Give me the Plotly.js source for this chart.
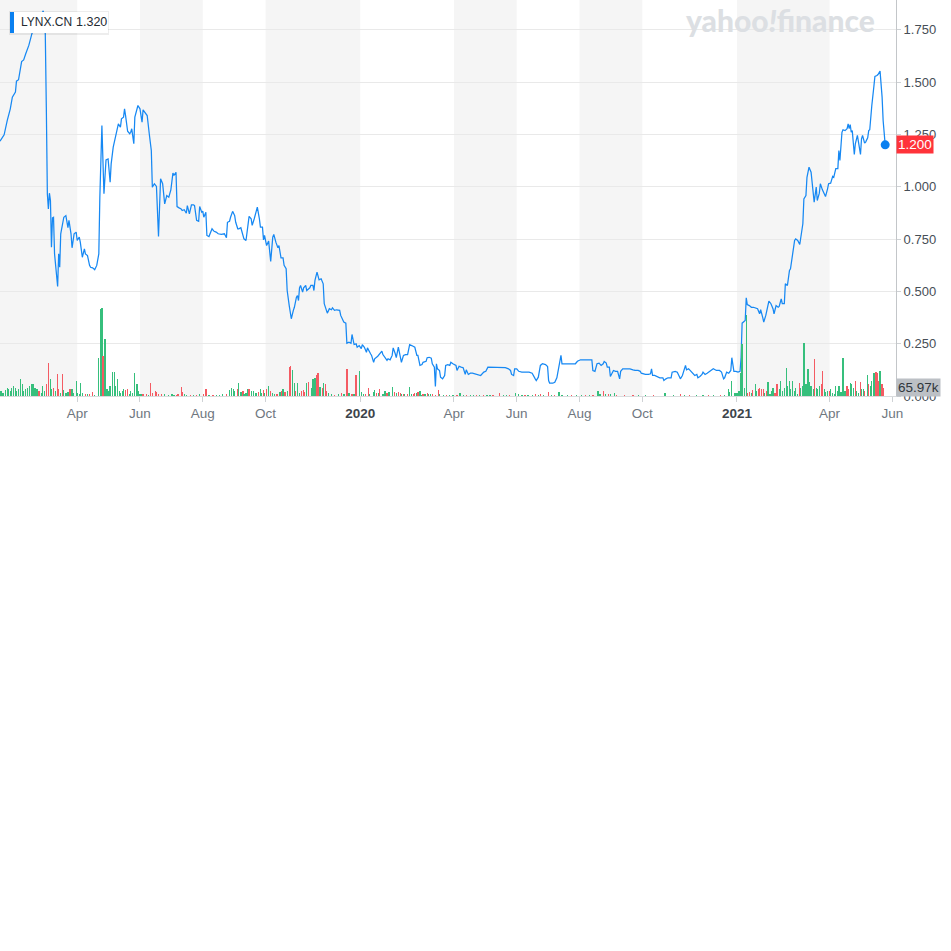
<!DOCTYPE html>
<html><head><meta charset="utf-8">
<script src="https://cdn.plot.ly/plotly-3.0.1.min.js"></script>
<style>html,body{margin:0;padding:0;background:#fff}#chart{width:951px;height:951px}</style>
</head><body><div id="chart"></div>
<script>
const ticker = 'LYNX.CN';
const hoverValue = '1.320';

const priceDates = [
'2019-01-16','2019-01-19','2019-01-20','2019-01-23','2019-01-26','2019-01-28','2019-01-31','2019-02-01','2019-02-03','2019-02-06',
'2019-02-08','2019-02-10','2019-02-13','2019-02-16','2019-02-18','2019-02-21','2019-02-24','2019-02-27','2019-03-01','2019-03-02',
'2019-03-03','2019-03-04','2019-03-05','2019-03-06','2019-03-07','2019-03-08','2019-03-09','2019-03-10','2019-03-12','2019-03-13',
'2019-03-14','2019-03-15','2019-03-16','2019-03-17','2019-03-19','2019-03-21','2019-03-23','2019-03-24','2019-03-26','2019-03-27',
'2019-03-29','2019-03-31','2019-04-01','2019-04-03','2019-04-04','2019-04-06','2019-04-08','2019-04-09','2019-04-11','2019-04-13',
'2019-04-14','2019-04-16','2019-04-18','2019-04-20','2019-04-22','2019-04-23','2019-04-25','2019-04-26','2019-04-27','2019-04-29',
'2019-05-01','2019-05-03','2019-05-04','2019-05-06','2019-05-08','2019-05-09','2019-05-11','2019-05-13','2019-05-14','2019-05-16',
'2019-05-17','2019-05-18','2019-05-20','2019-05-22','2019-05-23','2019-05-24','2019-05-26','2019-05-27','2019-05-29','2019-05-30',
'2019-06-01','2019-06-03','2019-06-04','2019-06-07','2019-06-08','2019-06-10','2019-06-12','2019-06-13','2019-06-15','2019-06-17',
'2019-06-19','2019-06-21','2019-06-23','2019-06-25','2019-06-27','2019-06-29','2019-07-01','2019-07-03','2019-07-04','2019-07-06',
'2019-07-07','2019-07-09','2019-07-11','2019-07-12','2019-07-14','2019-07-16','2019-07-17','2019-07-19','2019-07-21','2019-07-23',
'2019-07-24','2019-07-26','2019-07-28','2019-07-29','2019-07-31','2019-08-01','2019-08-02','2019-08-04','2019-08-05','2019-08-07',
'2019-08-09','2019-08-10','2019-08-12','2019-08-14','2019-08-16','2019-08-19','2019-08-22','2019-08-24','2019-08-25','2019-08-27',
'2019-08-28','2019-08-30','2019-09-01','2019-09-02','2019-09-04','2019-09-05','2019-09-07','2019-09-09','2019-09-10','2019-09-12',
'2019-09-14','2019-09-15','2019-09-17','2019-09-18','2019-09-20','2019-09-22','2019-09-23','2019-09-25','2019-09-26','2019-09-28',
'2019-09-29','2019-09-30','2019-10-02','2019-10-04','2019-10-05','2019-10-06','2019-10-08','2019-10-09','2019-10-11','2019-10-13',
'2019-10-14','2019-10-16','2019-10-18','2019-10-19','2019-10-21','2019-10-22','2019-10-24','2019-10-26','2019-10-28','2019-10-29',
'2019-10-31','2019-11-01','2019-11-02','2019-11-03','2019-11-04','2019-11-06','2019-11-07','2019-11-09','2019-11-10','2019-11-12',
'2019-11-13','2019-11-14','2019-11-16','2019-11-17','2019-11-18','2019-11-20','2019-11-22','2019-11-24','2019-11-25','2019-11-26',
'2019-11-27','2019-11-29','2019-11-30','2019-12-02','2019-12-04','2019-12-05','2019-12-07','2019-12-09','2019-12-12','2019-12-13',
'2019-12-16','2019-12-18','2019-12-19','2019-12-21','2019-12-23','2019-12-24','2019-12-26','2019-12-28','2019-12-29','2019-12-31',
'2020-01-02','2020-01-03','2020-01-05','2020-01-07','2020-01-08','2020-01-11','2020-01-12','2020-01-14','2020-01-15','2020-01-18',
'2020-01-20','2020-01-22','2020-01-23','2020-01-25','2020-01-27','2020-01-28','2020-01-30','2020-02-01','2020-02-02','2020-02-04',
'2020-02-05','2020-02-07','2020-02-09','2020-02-10','2020-02-12','2020-02-14','2020-02-16','2020-02-17','2020-02-18','2020-02-20',
'2020-02-22','2020-02-23','2020-02-25','2020-02-26','2020-02-28','2020-03-01','2020-03-02','2020-03-05','2020-03-06','2020-03-08',
'2020-03-10','2020-03-11','2020-03-13','2020-03-14','2020-03-15','2020-03-16','2020-03-18','2020-03-19','2020-03-21','2020-03-23',
'2020-03-24','2020-03-26','2020-03-28','2020-03-29','2020-03-31','2020-04-03','2020-04-04','2020-04-06','2020-04-08','2020-04-10',
'2020-04-12','2020-04-13','2020-04-15','2020-04-17','2020-04-19','2020-04-22','2020-04-25','2020-04-27','2020-04-30','2020-05-02',
'2020-05-04','2020-05-08','2020-05-12','2020-05-16','2020-05-21','2020-05-24','2020-05-26','2020-05-27','2020-05-29','2020-05-30',
'2020-06-01','2020-06-03','2020-06-06','2020-06-09','2020-06-13','2020-06-16','2020-06-17','2020-06-19','2020-06-20','2020-06-22',
'2020-06-24','2020-06-26','2020-06-29','2020-07-01','2020-07-02','2020-07-03','2020-07-06','2020-07-08','2020-07-10','2020-07-11',
'2020-07-14','2020-07-15','2020-07-18','2020-07-24','2020-07-28','2020-07-30','2020-08-02','2020-08-06','2020-08-13','2020-08-14',
'2020-08-16','2020-08-18','2020-08-20','2020-08-22','2020-08-24','2020-08-25','2020-08-27','2020-08-28','2020-08-30','2020-08-31',
'2020-09-01','2020-09-03','2020-09-05','2020-09-07','2020-09-09','2020-09-10','2020-09-12','2020-09-16','2020-09-19','2020-09-22',
'2020-09-24','2020-09-27','2020-09-29','2020-09-30','2020-10-04','2020-10-07','2020-10-09','2020-10-10','2020-10-11','2020-10-13',
'2020-10-16','2020-10-18','2020-10-21','2020-10-22','2020-10-24','2020-10-26','2020-10-29','2020-10-30','2020-11-02','2020-11-04',
'2020-11-06','2020-11-07','2020-11-09','2020-11-10','2020-11-12','2020-11-13','2020-11-15','2020-11-16','2020-11-18','2020-11-20',
'2020-11-21','2020-11-23','2020-11-24','2020-11-26','2020-11-28','2020-11-29','2020-12-01','2020-12-03','2020-12-06','2020-12-09',
'2020-12-12','2020-12-15','2020-12-17','2020-12-19','2020-12-20','2020-12-22','2020-12-24','2020-12-26','2020-12-27','2020-12-29',
'2020-12-31','2021-01-02','2021-01-04','2021-01-05','2021-01-06','2021-01-07','2021-01-09','2021-01-10','2021-01-11','2021-01-13',
'2021-01-15','2021-01-17','2021-01-19','2021-01-21','2021-01-23','2021-01-24','2021-01-26','2021-01-27','2021-01-29','2021-01-31',
'2021-02-01','2021-02-03','2021-02-05','2021-02-06','2021-02-08','2021-02-10','2021-02-11','2021-02-13','2021-02-14','2021-02-16',
'2021-02-17','2021-02-19','2021-02-21','2021-02-22','2021-02-24','2021-02-26','2021-02-27','2021-03-01','2021-03-03','2021-03-04',
'2021-03-06','2021-03-07','2021-03-09','2021-03-10','2021-03-12','2021-03-14','2021-03-16','2021-03-17','2021-03-19','2021-03-20',
'2021-03-22','2021-03-23','2021-03-25','2021-03-27','2021-03-28','2021-03-30','2021-03-31','2021-04-02','2021-04-04','2021-04-05',
'2021-04-07','2021-04-09','2021-04-10','2021-04-11','2021-04-13','2021-04-14','2021-04-16','2021-04-18','2021-04-19','2021-04-20',
'2021-04-21','2021-04-22','2021-04-23','2021-04-25','2021-04-26','2021-04-28','2021-04-29','2021-05-01','2021-05-02','2021-05-03',
'2021-05-05','2021-05-06','2021-05-08','2021-05-09','2021-05-10','2021-05-11','2021-05-12','2021-05-14','2021-05-15','2021-05-17',
'2021-05-18','2021-05-20','2021-05-22','2021-05-23','2021-05-25'
];
const closes = [
1.217,1.245,1.248,1.316,1.372,1.428,1.452,1.504,1.511,1.598,
1.606,1.635,1.675,1.731,1.76,1.79,1.81,1.84,1.73,1.38,
0.966,0.894,0.969,0.934,0.711,0.851,0.854,0.679,0.584,0.523,
0.679,0.615,0.775,0.807,0.854,0.862,0.804,0.839,0.775,0.708,
0.775,0.783,0.743,0.759,0.735,0.663,0.703,0.679,0.671,0.624,
0.615,0.612,0.603,0.624,0.679,0.95,1.292,1.125,0.966,1.128,
1.133,1.022,1.109,1.189,1.237,1.253,1.300,1.284,1.324,1.332,
1.372,1.340,1.265,1.253,1.260,1.277,1.205,1.332,1.364,1.388,
1.372,1.308,1.367,1.348,1.340,1.253,1.173,0.998,1.014,1.001,
0.762,1.038,1.014,0.918,0.958,0.950,0.985,1.065,1.054,1.069,
0.905,0.899,0.894,0.886,0.890,0.873,0.910,0.870,0.913,0.913,
0.910,0.839,0.835,0.905,0.878,0.883,0.854,0.878,0.767,0.762,
0.786,0.799,0.787,0.783,0.775,0.772,0.775,0.756,0.830,0.835,
0.854,0.882,0.862,0.830,0.799,0.799,0.804,0.767,0.751,0.743,
0.839,0.858,0.847,0.815,0.847,0.878,0.902,0.847,0.807,0.807,
0.746,0.767,0.719,0.740,0.687,0.643,0.759,0.772,0.735,0.708,
0.719,0.660,0.660,0.624,0.608,0.504,0.432,0.369,0.409,0.424,
0.472,0.480,0.456,0.517,0.528,0.496,0.517,0.528,0.504,0.512,
0.517,0.528,0.528,0.504,0.552,0.592,0.555,0.560,0.544,0.536,
0.441,0.417,0.396,0.417,0.412,0.421,0.409,0.412,0.409,0.385,
0.353,0.348,0.252,0.257,0.252,0.294,0.246,0.249,0.233,0.241,
0.226,0.245,0.233,0.209,0.230,0.202,0.194,0.161,0.178,0.190,
0.204,0.214,0.198,0.185,0.170,0.178,0.173,0.194,0.230,0.202,
0.183,0.233,0.185,0.161,0.194,0.198,0.198,0.233,0.245,0.241,
0.238,0.233,0.194,0.194,0.146,0.150,0.161,0.166,0.183,0.185,
0.181,0.154,0.138,0.045,0.154,0.130,0.122,0.090,0.082,0.098,
0.146,0.150,0.146,0.161,0.154,0.146,0.122,0.142,0.138,0.135,
0.103,0.125,0.103,0.109,0.109,0.106,0.103,0.098,0.114,0.118,
0.138,0.138,0.135,0.135,0.135,0.130,0.122,0.103,0.098,0.130,
0.130,0.118,0.114,0.114,0.114,0.109,0.098,0.082,0.074,0.090,
0.146,0.154,0.150,0.141,0.074,0.061,0.061,0.066,0.087,0.114,
0.194,0.154,0.154,0.154,0.154,0.166,0.173,0.173,0.173,0.122,
0.118,0.154,0.157,0.146,0.154,0.165,0.157,0.138,0.138,0.093,
0.103,0.122,0.118,0.118,0.082,0.118,0.130,0.130,0.130,0.125,
0.122,0.122,0.118,0.109,0.103,0.103,0.106,0.130,0.098,0.098,
0.093,0.087,0.087,0.074,0.082,0.087,0.087,0.114,0.118,0.114,
0.093,0.082,0.098,0.118,0.146,0.125,0.130,0.125,0.114,0.103,
0.098,0.103,0.087,0.093,0.103,0.114,0.103,0.109,0.118,0.130,
0.122,0.122,0.114,0.082,0.087,0.114,0.109,0.122,0.183,0.118,
0.118,0.114,0.118,0.185,0.348,0.353,0.361,0.469,0.437,0.432,
0.424,0.424,0.421,0.417,0.393,0.412,0.376,0.353,0.385,0.424,
0.453,0.441,0.417,0.393,0.432,0.424,0.428,0.464,0.441,0.441,
0.536,0.528,0.600,0.608,0.671,0.743,0.751,0.743,0.724,0.767,
0.823,0.942,0.958,1.045,1.093,1.069,0.950,0.926,0.998,0.934,
0.969,1.014,0.985,0.966,0.953,0.990,1.014,1.017,1.049,1.045,
1.086,1.086,1.173,1.125,1.260,1.272,1.268,1.277,1.300,1.277,
1.297,1.260,1.268,1.154,1.205,1.245,1.205,1.154,1.229,1.245,
1.208,1.213,1.234,1.268,1.272,1.356,1.388,1.479,1.527,1.531,
1.536,1.552,1.428,1.316,1.200
];

const volDates = [
'2019-01-17','2019-01-19','2019-01-21','2019-01-23','2019-01-24','2019-01-26','2019-01-27','2019-01-29','2019-01-31','2019-02-01',
'2019-02-03','2019-02-05','2019-02-07','2019-02-08','2019-02-10','2019-02-12','2019-02-14','2019-02-16','2019-02-17','2019-02-19',
'2019-02-21','2019-02-23','2019-02-25','2019-02-26','2019-02-28','2019-03-02','2019-03-04','2019-03-06','2019-03-07','2019-03-09',
'2019-03-11','2019-03-13','2019-03-14','2019-03-16','2019-03-18','2019-03-19','2019-03-21','2019-03-23','2019-03-25','2019-03-27',
'2019-03-28','2019-03-31','2019-04-01','2019-04-03','2019-04-04','2019-04-06','2019-04-09','2019-04-11','2019-04-13','2019-04-16',
'2019-04-18','2019-04-22','2019-04-24','2019-04-25','2019-04-26','2019-04-28','2019-04-30','2019-05-01','2019-05-03','2019-05-05',
'2019-05-07','2019-05-08','2019-05-10','2019-05-12','2019-05-13','2019-05-15','2019-05-16','2019-05-18','2019-05-20','2019-05-22',
'2019-05-23','2019-05-25','2019-05-27','2019-05-29','2019-05-30','2019-06-01','2019-06-03','2019-06-04','2019-06-07','2019-06-09',
'2019-06-11','2019-06-13','2019-06-16','2019-06-17','2019-06-19','2019-06-22','2019-06-25','2019-06-29','2019-07-02','2019-07-04',
'2019-07-07','2019-07-08','2019-07-11','2019-07-12','2019-07-14','2019-07-16','2019-07-20','2019-07-23','2019-07-26','2019-07-29',
'2019-08-02','2019-08-04','2019-08-07','2019-08-11','2019-08-14','2019-08-17','2019-08-20','2019-08-24','2019-08-27','2019-08-29',
'2019-08-31','2019-09-01','2019-09-04','2019-09-05','2019-09-07','2019-09-09','2019-09-10','2019-09-12','2019-09-14','2019-09-15',
'2019-09-17','2019-09-19','2019-09-21','2019-09-22','2019-09-24','2019-09-26','2019-09-27','2019-09-29','2019-09-30','2019-10-02',
'2019-10-04','2019-10-06','2019-10-08','2019-10-10','2019-10-12','2019-10-15','2019-10-17','2019-10-18','2019-10-20','2019-10-22',
'2019-10-24','2019-10-25','2019-10-27','2019-10-29','2019-10-30','2019-11-01','2019-11-03','2019-11-05','2019-11-07','2019-11-08',
'2019-11-10','2019-11-12','2019-11-15','2019-11-16','2019-11-18','2019-11-20','2019-11-21','2019-11-23','2019-11-25','2019-11-26',
'2019-11-28','2019-11-29','2019-12-01','2019-12-04','2019-12-07','2019-12-11','2019-12-14','2019-12-16','2019-12-17','2019-12-19',
'2019-12-21','2019-12-24','2019-12-26','2019-12-28','2019-12-31','2020-01-02','2020-01-04','2020-01-06','2020-01-09','2020-01-10',
'2020-01-14','2020-01-15','2020-01-17','2020-01-19','2020-01-20','2020-01-23','2020-01-25','2020-01-27','2020-01-29','2020-02-01',
'2020-02-03','2020-02-05','2020-02-07','2020-02-09','2020-02-10','2020-02-12','2020-02-13','2020-02-16','2020-02-18','2020-02-20',
'2020-02-22','2020-02-23','2020-02-25','2020-02-26','2020-02-28','2020-03-01','2020-03-02','2020-03-04','2020-03-06','2020-03-07',
'2020-03-09','2020-03-11','2020-03-14','2020-03-17','2020-03-18','2020-03-22','2020-03-25','2020-03-28','2020-03-31','2020-04-04',
'2020-04-07','2020-04-10','2020-04-13','2020-04-17','2020-04-20','2020-04-23','2020-04-26','2020-04-30','2020-05-03','2020-05-06',
'2020-05-09','2020-05-15','2020-05-19','2020-05-22','2020-05-25','2020-05-31','2020-06-03','2020-06-06','2020-06-09','2020-06-12',
'2020-06-16','2020-06-19','2020-06-22','2020-06-24','2020-06-27','2020-07-02','2020-07-05','2020-07-08','2020-07-12','2020-07-15',
'2020-07-20','2020-07-24','2020-07-29','2020-08-03','2020-08-07','2020-08-11','2020-08-14','2020-08-19','2020-08-21','2020-08-24',
'2020-08-26','2020-08-29','2020-08-31','2020-09-04','2020-09-06','2020-09-14','2020-09-22','2020-09-27','2020-10-04','2020-10-12',
'2020-10-23','2020-10-31','2020-11-07','2020-11-11','2020-11-16','2020-11-23','2020-11-29','2020-12-04','2020-12-09','2020-12-16',
'2020-12-20','2020-12-24','2020-12-25','2020-12-27','2020-12-30','2021-01-01','2021-01-03','2021-01-05','2021-01-06','2021-01-08',
'2021-01-10','2021-01-11','2021-01-13','2021-01-15','2021-01-16','2021-01-19','2021-01-20','2021-01-22','2021-01-23','2021-01-25',
'2021-01-27','2021-01-28','2021-01-30','2021-01-31','2021-02-02','2021-02-04','2021-02-05','2021-02-07','2021-02-09','2021-02-11',
'2021-02-12','2021-02-14','2021-02-16','2021-02-18','2021-02-19','2021-02-21','2021-02-22','2021-02-24','2021-02-26','2021-02-27',
'2021-03-01','2021-03-03','2021-03-04','2021-03-06','2021-03-07','2021-03-09','2021-03-11','2021-03-12','2021-03-14','2021-03-16',
'2021-03-17','2021-03-19','2021-03-20','2021-03-22','2021-03-24','2021-03-25','2021-03-27','2021-03-28','2021-03-30','2021-04-01',
'2021-04-02','2021-04-04','2021-04-06','2021-04-07','2021-04-09','2021-04-10','2021-04-12','2021-04-14','2021-04-16','2021-04-18',
'2021-04-19','2021-04-21','2021-04-22','2021-04-24','2021-04-26','2021-04-27','2021-04-29','2021-05-01','2021-05-02','2021-05-04',
'2021-05-05','2021-05-08','2021-05-09','2021-05-11','2021-05-12','2021-05-14','2021-05-16','2021-05-17','2021-05-19','2021-05-20',
'2021-05-22','2021-05-23'
];
const volumes = [
41000,27000,49000,68000,55000,41000,68000,82000,63000,41000,
55000,137000,96000,41000,55000,68000,82000,101000,96000,68000,
55000,41000,27000,82000,41000,96000,269000,137000,55000,68000,
41000,178000,60000,27000,178000,49000,27000,33000,55000,55000,
27000,123000,27000,14000,109000,22000,14000,14000,19000,33000,
6000,315000,718000,726000,329000,471000,55000,41000,82000,197000,
197000,82000,142000,41000,27000,41000,55000,49000,60000,14000,
41000,27000,187000,96000,41000,19000,14000,14000,14000,8000,
109000,27000,41000,33000,19000,14000,14000,11000,19000,11000,
8000,16000,76000,33000,19000,8000,8000,11000,11000,14000,
14000,60000,6000,11000,11000,8000,14000,14000,47000,68000,
60000,41000,60000,104000,33000,39000,19000,27000,60000,60000,
41000,41000,22000,27000,33000,60000,27000,47000,27000,55000,
82000,41000,22000,14000,19000,33000,41000,60000,33000,41000,
238000,247000,214000,109000,41000,109000,27000,41000,49000,33000,
107000,115000,66000,140000,150000,170000,192000,76000,68000,109000,
96000,41000,22000,14000,11000,14000,22000,14000,16000,224000,
22000,14000,19000,170000,205000,33000,19000,14000,68000,14000,
33000,49000,27000,27000,55000,19000,41000,27000,33000,76000,
33000,27000,33000,27000,19000,19000,14000,14000,76000,19000,
16000,22000,27000,33000,41000,11000,14000,19000,22000,14000,
19000,14000,8000,49000,14000,6000,6000,6000,6000,8000,
27000,11000,8000,8000,6000,8000,6000,6000,11000,8000,
11000,27000,6000,6000,6000,27000,14000,11000,11000,8000,
8000,14000,11000,14000,8000,35000,11000,11000,33000,11000,
8000,8000,8000,8000,11000,8000,8000,41000,14000,41000,
14000,14000,14000,27000,11000,8000,11000,6000,6000,6000,
27000,6000,14000,11000,11000,6000,8000,6000,8000,8000,
11000,55000,33000,123000,22000,27000,41000,187000,430000,68000,
663000,27000,33000,27000,49000,101000,41000,55000,66000,55000,
60000,27000,39000,115000,19000,41000,68000,27000,101000,55000,
123000,41000,68000,230000,82000,123000,55000,123000,41000,68000,
19000,109000,68000,82000,438000,96000,219000,115000,82000,60000,
307000,68000,55000,82000,96000,206000,55000,33000,41000,41000,
55000,27000,14000,82000,41000,82000,33000,315000,41000,82000,
55000,109000,96000,68000,123000,41000,27000,115000,55000,60000,
41000,170000,96000,82000,123000,192000,197000,192000,123000,206000,
96000,65970
];
const volDir = [
1,1,1,1,1,1,1,1,1,1,
1,1,1,1,1,1,1,1,1,1,
1,-1,1,1,1,-1,-1,1,1,-1,
1,-1,-1,1,-1,1,1,1,-1,1,
1,1,1,1,1,1,-1,1,-1,-1,
1,1,1,1,-1,1,1,1,1,1,
1,1,1,1,1,1,1,-1,-1,1,
1,1,1,1,1,1,1,-1,-1,1,
-1,-1,-1,-1,-1,-1,1,1,1,1,
-1,-1,-1,-1,1,1,-1,1,-1,1,
-1,-1,1,-1,1,1,1,-1,1,1,
1,1,-1,1,1,-1,1,1,1,-1,
1,1,1,1,-1,1,1,-1,1,-1,
1,-1,1,1,-1,1,-1,1,-1,1,
-1,-1,1,1,-1,1,1,-1,-1,-1,
1,-1,1,1,1,-1,-1,1,-1,1,
-1,-1,1,1,-1,1,-1,1,1,-1,
1,-1,1,-1,1,1,1,-1,-1,1,
1,1,-1,1,-1,1,1,-1,1,1,
-1,1,-1,-1,1,-1,1,-1,1,1,
-1,-1,1,-1,1,1,-1,1,-1,1,
1,-1,-1,-1,1,1,-1,1,1,-1,
1,1,-1,1,1,-1,1,-1,1,1,
-1,-1,1,1,-1,1,1,1,-1,1,
1,-1,1,-1,1,-1,1,-1,1,1,
1,-1,1,1,-1,1,-1,1,1,-1,
1,-1,1,1,-1,-1,-1,1,1,-1,
1,1,-1,1,-1,1,1,-1,1,-1,
1,1,1,1,1,1,1,1,1,1,
1,-1,-1,1,-1,1,1,-1,-1,-1,
-1,1,-1,1,1,1,1,-1,-1,1,
1,1,1,1,1,1,1,1,1,1,
1,-1,1,1,1,1,1,1,1,1,
-1,1,1,1,-1,-1,1,1,1,-1,
1,1,1,1,1,1,1,1,1,-1,
-1,1,1,1,-1,1,1,-1,1,1,
-1,1,-1,1,1,1,-1,-1,-1,1,
-1,-1
];

const tickDates = ['2019-04-01','2019-06-01','2019-08-01','2019-10-01','2020-01-01','2020-04-01','2020-06-01','2020-08-01','2020-10-01','2021-01-01','2021-04-01','2021-06-01'];
const tickLabels = ['Apr','Jun','Aug','Oct','2020','Apr','Jun','Aug','Oct','2021','Apr','Jun'];
const bandStarts = ['2019-01-16','2019-06-01','2019-10-01','2020-04-01','2020-08-01','2021-01-01'];
const bandEnds   = ['2019-04-01','2019-08-01','2020-01-01','2020-06-01','2020-10-01','2021-04-01'];
const priceTicks = [0, 0.25, 0.5, 0.75, 1.0, 1.25, 1.5, 1.75];

// ---------- layout helpers ----------
const W = 951, H = 951, PW = 896, PH = 396;
const PX = x => x / PW;
const PY = y => 1 - y / PH;
const FONT = '"Helvetica Neue", Helvetica, Arial, "Liberation Sans", sans-serif';

const lastDate = priceDates[priceDates.length - 1];
const lastClose = closes[closes.length - 1];
const lastVol = volumes[volumes.length - 1];

const UP = '#36bf7c', DOWN = '#f45b63', LINE = '#1688f3';

const traces = [
  {
    type: 'bar', x: volDates, y: volumes, yaxis: 'y2',
    marker: { color: volDir.map(d => d > 0 ? UP : DOWN), line: { width: 0 } },
    width: 86400000 * 1.25, hoverinfo: 'skip'
  },
  {
    type: 'scatter', mode: 'lines', x: priceDates, y: closes,
    line: { color: LINE, width: 1.25 }, hoverinfo: 'skip'
  },
  {
    type: 'scatter', mode: 'markers', x: [lastDate], y: [lastClose],
    marker: { color: '#0a80f0', size: 9 }, hoverinfo: 'skip'
  }
];

const shapes = bandStarts.map((s, i) => ({
  type: 'rect', xref: 'x', yref: 'paper', x0: s, x1: bandEnds[i], y0: 0, y1: 1,
  fillcolor: '#f5f5f5', line: { width: 0 }, layer: 'below'
}));
// ticker badge
shapes.push({ type: 'rect', xref: 'paper', yref: 'paper', x0: PX(9), x1: PX(109), y0: PY(35), y1: PY(11), fillcolor: 'rgba(0,0,0,0.07)', line: { width: 0 }, layer: 'above' });
shapes.push({ type: 'rect', xref: 'paper', yref: 'paper', x0: PX(10), x1: PX(108), y0: PY(33), y1: PY(12), fillcolor: '#ffffff', line: { width: 0 }, layer: 'above' });
shapes.push({ type: 'rect', xref: 'paper', yref: 'paper', x0: PX(10), x1: PX(14), y0: PY(33), y1: PY(12), fillcolor: '#0a80f0', line: { width: 0 }, layer: 'above' });

const annotations = [
  { xref: 'paper', yref: 'paper', x: PX(780), y: PY(20), xanchor: 'center', yanchor: 'middle', showarrow: false,
    text: 'yahoo<i>!</i>finance', font: { family: 'Lato, Inter, sans-serif', size: 30, color: '#dcdfe3', weight: 900 } },
  { xref: 'paper', yref: 'paper', x: PX(19), y: PY(22.5), xanchor: 'left', yanchor: 'middle', showarrow: false,
    text: ticker, font: { family: FONT, size: 12, color: '#232a31' } },
  { xref: 'paper', yref: 'paper', x: PX(74), y: PY(22.5), xanchor: 'left', yanchor: 'middle', showarrow: false,
    text: hoverValue, font: { family: FONT, size: 12.5, color: '#232a31' } },
  { xref: 'paper', yref: 'y', x: 1, y: lastClose, xanchor: 'left', yanchor: 'middle', showarrow: false,
    text: lastClose.toFixed(3), bgcolor: '#ff333a', borderpad: 1,
    font: { family: FONT, size: 13.5, color: '#ffffff' } },
  { xref: 'paper', yref: 'y2', x: 1, y: lastVol, xanchor: 'left', yanchor: 'middle', showarrow: false,
    text: (lastVol / 1000).toFixed(2) + 'k', bgcolor: '#bcc0c5', borderpad: 1,
    font: { family: FONT, size: 13.5, color: '#30363c' } }
];

const layout = {
  width: W, height: H,
  margin: { l: 0, r: W - PW, t: 0, b: H - PH, pad: 0 },
  paper_bgcolor: '#ffffff', plot_bgcolor: '#ffffff',
  showlegend: false, hovermode: false, bargap: 0,
  font: { family: FONT },
  xaxis: {
    type: 'date', range: ['2019-01-16', '2021-06-04 12:00'],
    tickmode: 'array', tickvals: tickDates,
    ticktext: tickLabels.map(t => /^\d{4}$/.test(t) ? '<b><span style="color:#3d444b">' + t + '</span></b>' : t),
    ticks: 'outside', ticklen: 5, tickcolor: '#cfd2d5', tickwidth: 1,
    showgrid: false, zeroline: false, showline: true, linecolor: '#d9dbdd', linewidth: 1,
    tickfont: { family: FONT, size: 13.5, color: '#6f777f' }, fixedrange: true
  },
  yaxis: {
    side: 'right', range: [0, PH / 209.3],
    tickmode: 'array', tickvals: priceTicks, tickformat: '.3f',
    ticks: 'outside', ticklen: 4, tickcolor: '#cfd2d5',
    showgrid: true, gridcolor: '#e9e9e9', gridwidth: 1,
    zeroline: false, showline: true, linecolor: '#c3c6c9', linewidth: 1,
    tickfont: { family: FONT, size: 13, color: '#464e56' }, fixedrange: true
  },
  yaxis2: { overlaying: 'y', range: [0, 3260000], visible: false, fixedrange: true },
  shapes: shapes,
  annotations: annotations
};

Plotly.newPlot('chart', traces, layout, { staticPlot: true, displayModeBar: false });
</script>
</body></html>
